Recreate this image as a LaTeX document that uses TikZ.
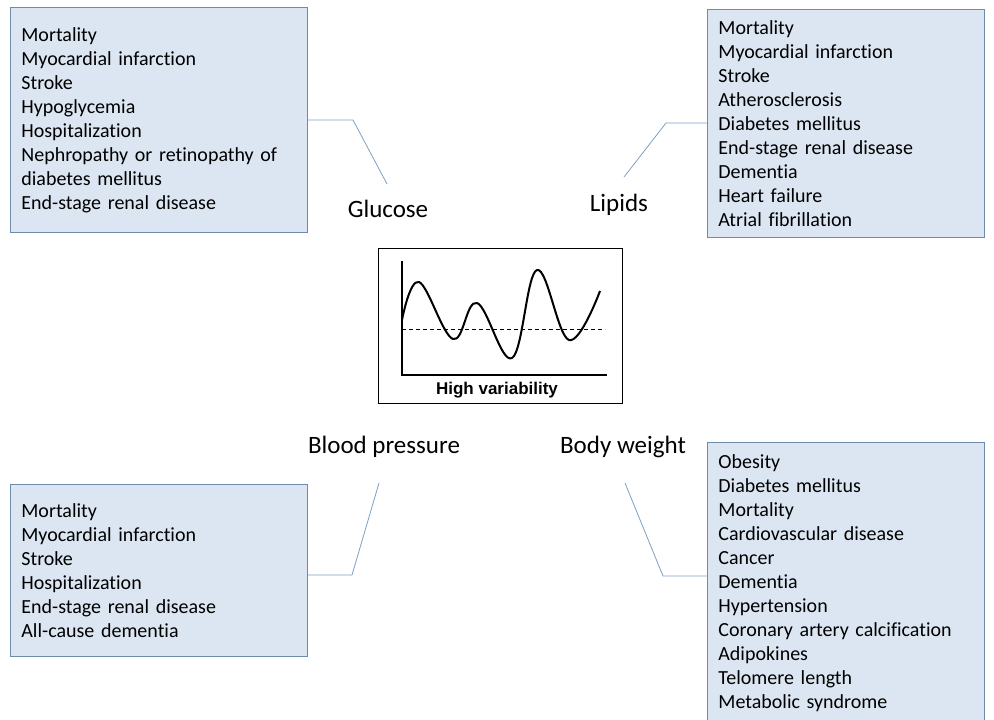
\documentclass[tikz,border=0pt]{standalone}
\usepackage{fontspec}
\setmainfont[Ligatures={NoCommon}]{Carlito}
\newfontfamily\arialfont{Liberation Sans}
\definecolor{boxfill}{RGB}{220,230,242}
\definecolor{boxline}{RGB}{110,140,170}
\definecolor{linkline}{RGB}{125,160,195}

\begin{document}
\begin{tikzpicture}[x=1pt,y=-1pt,
    outcomes/.style={draw=boxline,fill=boxfill,line width=0.8pt,anchor=north west,
      align=left,inner xsep=11pt,inner ysep=0pt,font=\fontsize{20}{24}\selectfont},
    factor/.style={anchor=base,font=\fontsize{25}{30}\selectfont},
    link/.style={draw=linkline,line width=0.8pt}]
  \useasboundingbox (0,0) rectangle (994,720);

  % outcome boxes
  \node[outcomes,text width=275pt,minimum height=225pt] (glubox) at (10,7)
    {Mortality\\Myocardial infarction\\Stroke\\Hypoglycemia\\Hospitalization\\
     Nephropathy or retinopathy of\\diabetes mellitus\\End-stage renal disease};
  \node[outcomes,text width=255pt,minimum height=228pt] (lipbox) at (707,9)
    {Mortality\\Myocardial infarction\\Stroke\\Atherosclerosis\\Diabetes mellitus\\
     End-stage renal disease\\Dementia\\Heart failure\\Atrial fibrillation};
  \node[outcomes,text width=275pt,minimum height=172pt] (bpbox) at (10,484)
    {Mortality\\Myocardial infarction\\Stroke\\Hospitalization\\
     End-stage renal disease\\All-cause dementia};
  \node[outcomes,text width=255pt,minimum height=282pt] (bwbox) at (707,442)
    {Obesity\\Diabetes mellitus\\Mortality\\Cardiovascular disease\\Cancer\\Dementia\\
     Hypertension\\Coronary artery calcification\\Adipokines\\Telomere length\\
     Metabolic syndrome};

  % factors
  \node[factor] (glu) at (388,217) {Glucose};
  \node[factor] (lip) at (619,211) {Lipids};
  \node[factor] (bp) at (384,453) {Blood pressure};
  \node[factor] (bw) at (623,453) {Body weight};

  % connectors
  \coordinate (glubend) at (353,120);
  \coordinate (gluend) at (387,184);
  \coordinate (lipbend) at (666,123);
  \coordinate (lipend) at (624,177);
  \coordinate (bpbend) at (352,575);
  \coordinate (bpend) at (379,483);
  \coordinate (bwbend) at (663,576);
  \coordinate (bwend) at (625,483);
  \draw[link] (glubox.east |- glubend) -- (glubend) -- (gluend);
  \draw[link] (lipbox.west |- lipbend) -- (lipbend) -- (lipend);
  \draw[link] (bpbox.east |- bpbend) -- (bpbend) -- (bpend);
  \draw[link] (bwbox.west |- bwbend) -- (bwbend) -- (bwend);

  % variability sketch
  \node[draw,line width=0.8pt,minimum width=244pt,minimum height=155pt,
    anchor=north west,inner sep=0pt] (varbox) at (378,248) {};
  \draw[line width=1.6pt] (402,261) -- (402,375) -- (607,375);
  \draw[line width=0.9pt,dash pattern=on 4pt off 3pt] (402,329) -- (605,329);
  \draw[line width=2pt,line join=round] plot[smooth,tension=0.65] coordinates
    {(402,320) (419,282) (453,339) (477,303) (512,358) (537,270) (569,340) (600,291)};
  \node[anchor=base,font=\arialfont\bfseries\fontsize{17}{20}\selectfont] (varlbl)
    at (497,394) {High variability};
\end{tikzpicture}
\end{document}
